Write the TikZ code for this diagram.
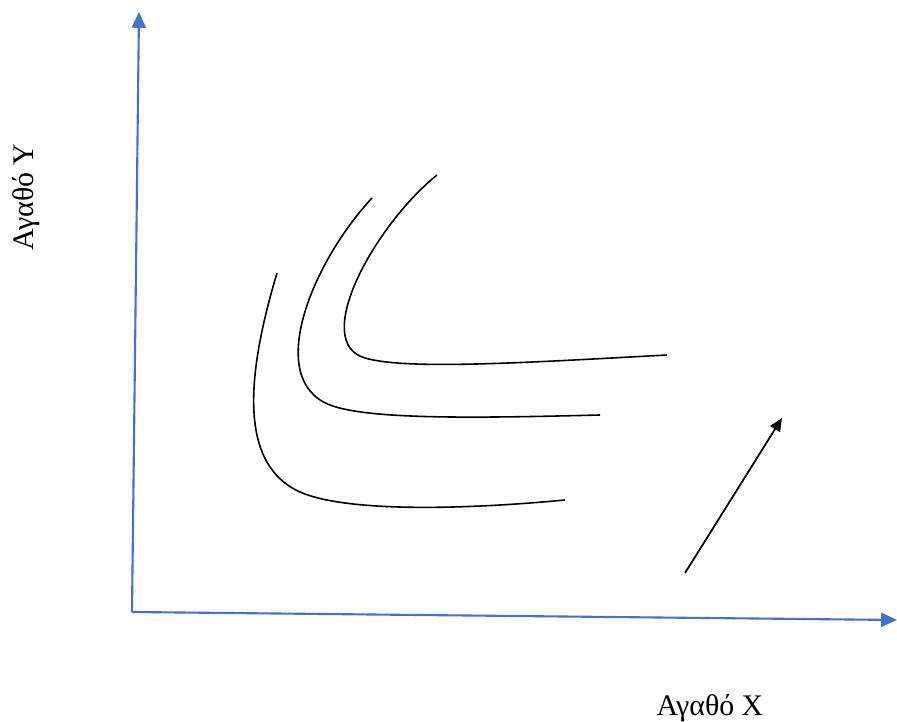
\documentclass[tikz,border=0pt]{standalone}
\usepackage{fontspec}
\setmainfont{Liberation Serif}
\usepackage{tikz}
\usetikzlibrary{arrows.meta,positioning}
\definecolor{axisblue}{RGB}{68,114,196}

\begin{document}
\begin{tikzpicture}[x=0.02cm, y=-0.02cm,
axisline/.style={line width=1.2pt, draw=axisblue, -{Triangle[length=9pt, width=8pt]}},
icurve/.style={line width=0.9pt, draw=black},
arrow/.style={-{Triangle[length=7.5pt, width=6.5pt]}, line width=1pt, draw=black},
lbl/.style={font=\fontsize{17}{20}\selectfont, inner sep=0pt}
]
\useasboundingbox (0,0) rectangle (897,722);

\coordinate (o)  at (132,612);
\coordinate (yt) at (139,12);
\coordinate (xt) at (897,620);

\draw[axisline] (o) -- (yt);
\draw[axisline] (o) -- (xt);

\node[lbl, rotate=90] (ylab) at (26,197) {Αγαθό Υ};
\node[lbl] (xlab) at (710,708) {Αγαθό Χ};

% indifference curves
\draw[icurve] (277,273) .. controls (245,380) and (240,465) .. (300,492)
  .. controls (345,512) and (460,510) .. (565,500);
\draw[icurve] (372,198) .. controls (310,265) and (265,380) .. (330,405)
  .. controls (369,420) and (480,418) .. (600,415);
\draw[icurve] (437,175) .. controls (375,225) and (310,342) .. (365,358)
  .. controls (406,370) and (520,363) .. (667,355);

\coordinate (a0) at (685,573);
\coordinate (a1) at (782,418);
\draw[arrow] (a0) -- (a1);

\end{tikzpicture}
\end{document}
